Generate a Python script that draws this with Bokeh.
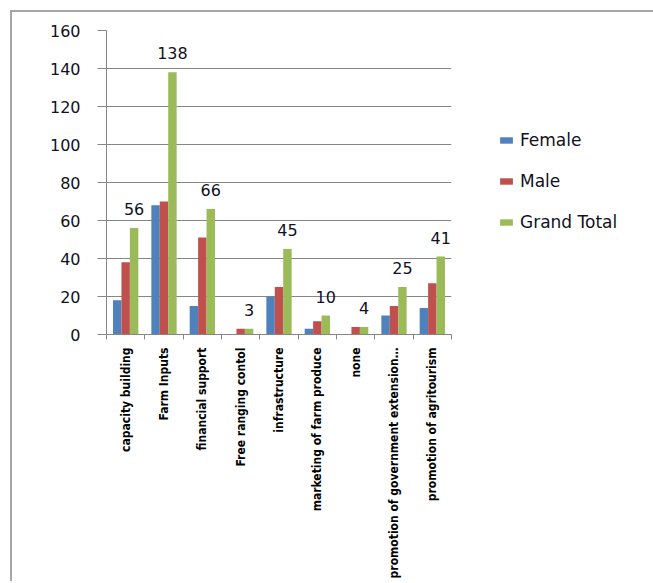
from bokeh.plotting import figure
from bokeh.models import ColumnDataSource, FixedTicker, Legend, LegendItem, Range1d
from bokeh.core.properties import value
from bokeh.embed import file_html
from bokeh.resources import INLINE

categories = ["capacity building", "Farm Inputs", "financial support", "Free ranging contol",
              "infrastructure", "marketing of farm produce", "none",
              "promotion of government extension\u2026", "promotion of agritourism"]
female = [18, 68, 15, 0, 20, 3, 0, 10, 14]
male = [38, 70, 51, 3, 25, 7, 4, 15, 27]
grand_total = [56, 138, 66, 3, 45, 10, 4, 25, 41]
y_ticks = [0, 20, 40, 60, 80, 100, 120, 140, 160]

C_F, C_M, C_T = "#4F81BD", "#C0504D", "#9BBB59"
GRID = "#868686"
TXT = "#111122"
n = len(categories)
centers = [i + 0.5 for i in range(n)]
bw = 0.22

src = ColumnDataSource(dict(
    xf=[c - bw for c in centers], xm=centers, xt=[c + bw for c in centers],
    f=female, m=male, t=grand_total, lbl=[str(v) for v in grand_total]))

p = figure(frame_width=345, frame_height=304,
           x_range=Range1d(0, n), y_range=Range1d(0, 160),
           output_backend="svg", toolbar_location=None,
           min_border_left=94, min_border_top=18, min_border_right=204, min_border_bottom=243)
p.styles = {"border-left": "2px solid #A6A6A6", "border-top": "2px solid #A6A6A6",
            "margin-left": "10px", "margin-top": "10px"}
p.outline_line_color = None
p.background_fill_color = "white"
p.border_fill_color = "white"

rf = p.vbar(x="xf", top="f", width=bw, source=src, fill_color=C_F, line_color=None)
rm = p.vbar(x="xm", top="m", width=bw, source=src, fill_color=C_M, line_color=None)
rt = p.vbar(x="xt", top="t", width=bw, source=src, fill_color=C_T, line_color=None)

p.text(x="xt", y="t", text="lbl", source=src, text_align="center", text_baseline="alphabetic",
       y_offset=-19, text_font=value("DejaVu Sans"), text_font_size="16px", text_color=TXT)

# y axis
p.yaxis.ticker = FixedTicker(ticks=y_ticks)
p.yaxis.axis_line_color = GRID
p.yaxis.major_tick_line_color = GRID
p.yaxis.major_tick_out = 9
p.yaxis.major_tick_in = 0
p.yaxis.minor_tick_line_color = None
p.yaxis.major_label_standoff = 17
p.yaxis.major_label_text_font = "DejaVu Sans"
p.yaxis.major_label_text_font_size = "16px"
p.yaxis.major_label_text_color = TXT
p.ygrid.grid_line_color = GRID
p.ygrid.ticker = FixedTicker(ticks=y_ticks)
p.xgrid.grid_line_color = None

# x axis
p.xaxis.ticker = FixedTicker(ticks=centers, minor_ticks=list(range(n + 1)))
p.xaxis.major_label_overrides = {c: lab for c, lab in zip(centers, categories)}
p.xaxis.major_label_orientation = 3.14159265 / 2
p.xaxis.major_tick_line_color = None
p.xaxis.minor_tick_line_color = GRID
p.xaxis.minor_tick_out = 5
p.xaxis.minor_tick_in = 0
p.xaxis.axis_line_color = GRID
p.xaxis.major_label_standoff = 7
p.xaxis.major_label_text_font = "DejaVu Sans Condensed"
p.xaxis.major_label_text_font_style = "bold"
p.xaxis.major_label_text_font_size = "12px"
p.xaxis.major_label_text_color = "#000000"

legend = Legend(items=[LegendItem(label="Female", renderers=[rf]),
                       LegendItem(label="Male", renderers=[rm]),
                       LegendItem(label="Grand Total", renderers=[rt])],
                location=(47, 102), orientation="vertical",
                glyph_width=16, glyph_height=8, label_height=20, spacing=21,
                label_standoff=6, padding=0, margin=0,
                border_line_color=None, background_fill_alpha=0,
                label_text_font="DejaVu Sans",
                label_text_font_size="17px", label_text_color=TXT)
p.add_layout(legend, "right")

open("out.html", "w").write(file_html(p, INLINE))
